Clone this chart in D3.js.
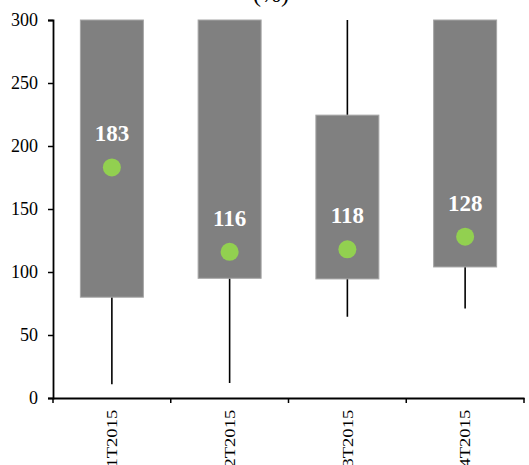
<!DOCTYPE html>
<html><head><meta charset="utf-8">
<script src="https://cdn.jsdelivr.net/npm/d3@7"></script>
<style>body{margin:0;background:#fff}svg{display:block}</style>
</head><body>
<script>
const categories = ["1T2015","2T2015","3T2015","4T2015"];
const whiskerLow = [11, 12, 64.5, 71];
const boxLow = [80, 95, 94.5, 104];
const boxHigh = [300, 300, 224.5, 300];
const whiskerHigh = [300, 300, 300, 300];
const means = [183, 116, 118, 128];
const meanLabels = ["183","116","118","128"];
const yTicks = [0,50,100,150,200,250,300];

const W=529,H=465;
const svg=d3.select("body").append("svg").attr("width",W).attr("height",H);
const x=d3.scaleBand().domain(categories).range([53,524]).paddingInner(0).paddingOuter(0);
const y=d3.scaleLinear().domain([0,300]).range([398,20]);
const font="'Liberation Serif','Times New Roman',serif";

svg.append("text").attr("x",271).attr("y",2).attr("text-anchor","middle")
  .attr("font-family",font).attr("font-size",24).attr("fill","#000").text("(%)");

const bw=63;
const g=svg.append("g");
categories.forEach((c,i)=>{
  const cx=x(c)+x.bandwidth()/2;
  g.append("line").attr("x1",cx).attr("x2",cx).attr("y1",y(whiskerLow[i])).attr("y2",y(whiskerHigh[i]))
    .attr("stroke","#000").attr("stroke-width",1.6);
  g.append("rect").attr("x",cx-bw/2).attr("width",bw).attr("y",y(boxHigh[i])).attr("height",y(boxLow[i])-y(boxHigh[i]))
    .attr("fill","#808080").attr("stroke","#a6a6a6").attr("stroke-width",1);
  g.append("circle").attr("cx",cx).attr("cy",y(means[i])).attr("r",9).attr("fill","#92d050");
  g.append("text").attr("x",cx).attr("y",y(means[i])-26).attr("text-anchor","middle")
    .attr("font-family",font).attr("font-weight","bold").attr("font-size",23).attr("fill","#fff").text(meanLabels[i]);
});

const ya=svg.append("g").attr("transform","translate(53,0)")
  .call(d3.axisLeft(y).tickValues(yTicks).tickSize(5).tickPadding(10));
ya.selectAll("text").attr("font-family",font).attr("font-size",18).attr("fill","#000");
ya.select(".domain").attr("stroke","#000").attr("stroke-width",1.8);
ya.selectAll(".tick line").attr("stroke","#000").attr("stroke-width",1.5);

const xa=svg.append("g").attr("transform","translate(0,398)")
  .call(d3.axisBottom(x).tickSize(0).tickSizeOuter(0));
xa.select(".domain").attr("stroke","#000").attr("stroke-width",1.8);
xa.selectAll(".tick text").attr("font-family",font).attr("font-size",15).attr("fill","#000")
  .attr("transform","rotate(-90) scale(1.24,1)").attr("text-anchor","end").attr("dy","0.35em").attr("x",-9.5).attr("y",0);
const bounds=categories.map(c=>x(c)).concat([x.range()[1]]);
xa.selectAll(".bt").data(bounds).enter().append("line").attr("class","bt")
  .attr("x1",d=>d).attr("x2",d=>d).attr("y1",0).attr("y2",5).attr("stroke","#000").attr("stroke-width",1.5);
</script>
</body></html>
